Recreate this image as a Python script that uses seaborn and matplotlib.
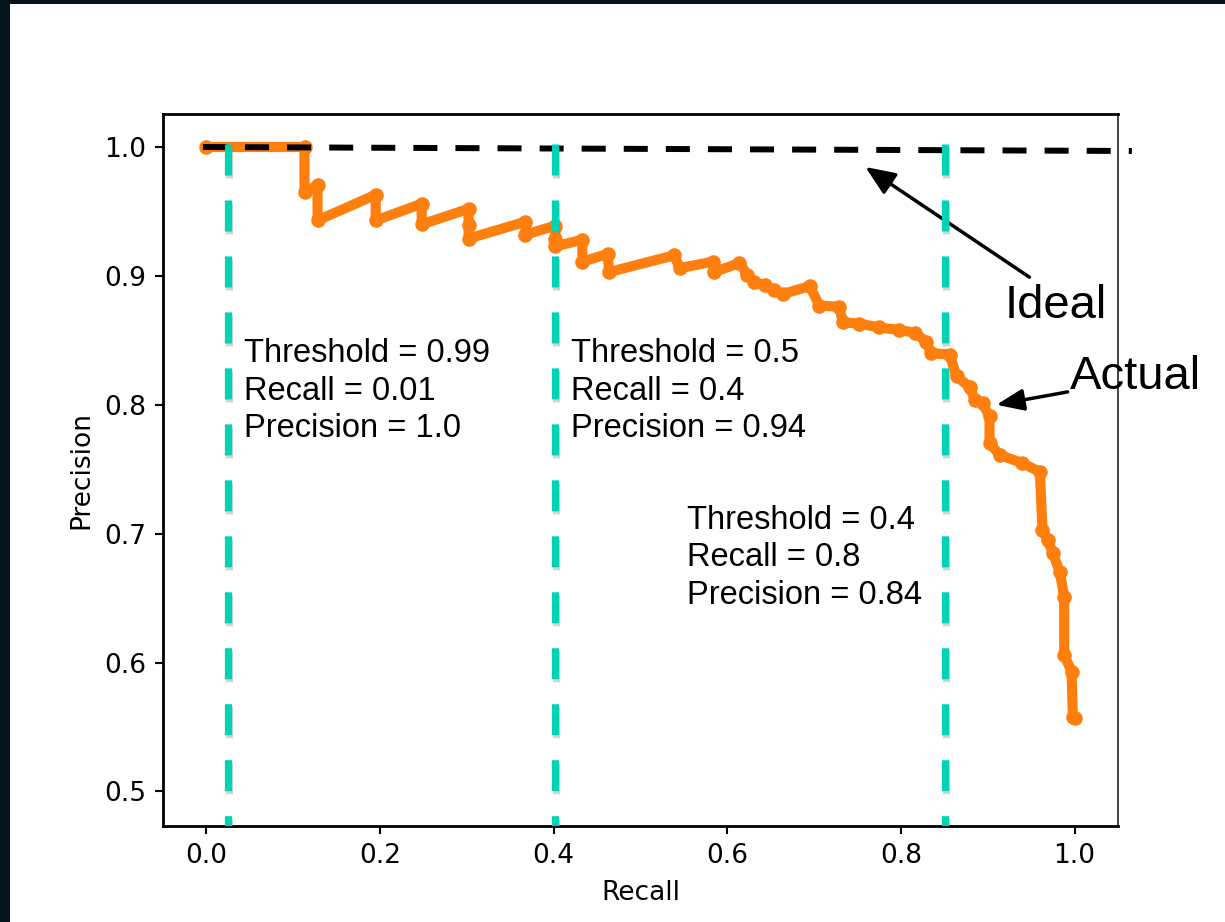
import numpy as np
import pandas as pd
import matplotlib
matplotlib.use("Agg")
import matplotlib.pyplot as plt
import matplotlib.patheffects as pe
from matplotlib.patches import Rectangle
import seaborn as sns

# precision-recall curve
recall = [0.0, 0.113, 0.113, 0.128, 0.128, 0.195, 0.195, 0.248, 0.248, 0.302,
          0.302, 0.302, 0.3675, 0.3675, 0.402, 0.402, 0.402, 0.433, 0.433, 0.462,
          0.464, 0.539, 0.545, 0.583, 0.585, 0.614, 0.623, 0.631, 0.643, 0.654,
          0.664, 0.695, 0.706, 0.729, 0.733, 0.752, 0.775, 0.798, 0.816, 0.829,
          0.835, 0.856, 0.864, 0.879, 0.885, 0.894, 0.902, 0.902, 0.914, 0.939,
          0.960, 0.963, 0.969, 0.975, 0.983, 0.988, 0.988, 0.9965, 0.998, 1.0]
precision = [1.0, 1.0, 0.965, 0.9705, 0.943, 0.963, 0.943, 0.956, 0.940, 0.952,
             0.9395, 0.929, 0.942, 0.932, 0.939, 0.929, 0.923, 0.928, 0.911, 0.917,
             0.903, 0.916, 0.906, 0.911, 0.903, 0.910, 0.901, 0.895, 0.893, 0.889,
             0.886, 0.892, 0.877, 0.876, 0.864, 0.863, 0.860, 0.858, 0.856, 0.849,
             0.840, 0.839, 0.822, 0.814, 0.804, 0.801, 0.791, 0.770, 0.761, 0.755,
             0.748, 0.703, 0.695, 0.685, 0.670, 0.651, 0.606, 0.593, 0.558, 0.557]

# ideal line
ideal_x = [-0.004, 1.066]
ideal_y = [1.0, 0.9969]

# chosen thresholds
marker_recall = [0.025, 0.401, 0.851]
notes = ["Threshold = 0.99\nRecall = 0.01\nPrecision = 1.0",
         "Threshold = 0.5\nRecall = 0.4\nPrecision = 0.94",
         "Threshold = 0.4\nRecall = 0.8\nPrecision = 0.84"]
# anchored at the baseline of the last line
note_pos = [(0.0438, 0.775), (0.4205, 0.775), (0.554, 0.6455)]

xticks = [0.0, 0.2, 0.4, 0.6, 0.8, 1.0]
yticks = [0.5, 0.6, 0.7, 0.8, 0.9, 1.0]

ORANGE = "#ff7f0e"
TEAL = "#00d2b4"

sns.set_style("ticks")
plt.rcParams["lines.scale_dashes"] = False
plt.rcParams["font.family"] = ["DejaVu Sans"]
plt.rcParams["text.color"] = "black"

fig = plt.figure(figsize=(12.25, 9.22), dpi=100, facecolor="#06141b")
fig.add_artist(Rectangle((10 / 1225, 0), 1, 1 - 4 / 922, transform=fig.transFigure,
                         facecolor="white", edgecolor="none", zorder=-1))
ax = fig.add_axes([163 / 1225, 1 - 826 / 922, (1118 - 163) / 1225, (826 - 114) / 922])

df = pd.DataFrame({"Recall": recall, "Precision": precision})
sns.lineplot(data=df, x="Recall", y="Precision", estimator=None, sort=False,
             color=ORANGE, lw=7.3, marker="o", markersize=10.5, markeredgewidth=0,
             solid_capstyle="round", solid_joinstyle="round", ax=ax, zorder=2)

ax.plot(ideal_x, ideal_y, color="black", lw=4.3, linestyle=(0, (17.3, 13)),
        clip_on=False, zorder=3)

for xv in marker_recall:
    ax.plot([xv, xv], [1.0023, 0.4732], color=TEAL, lw=5.2,
            linestyle=(0, (22.3, 18)), zorder=4,
            path_effects=[pe.SimpleLineShadow(offset=(0.8, -2), shadow_color="gray", alpha=0.35),
                          pe.Normal()])

for (tx, ty), s in zip(note_pos, notes):
    ax.text(tx, ty, s, fontsize=23.5, family="Liberation Sans", va="baseline",
            ha="left", linespacing=1.27, color="black", zorder=5)

ax.text(0.919, 0.867, "Ideal", fontsize=34, family="Liberation Sans", va="baseline", color="black")
ax.text(0.995, 0.812, "Actual", fontsize=34, family="Liberation Sans", va="baseline", color="black")

ax.annotate("", xy=(0.759, 0.9845), xytext=(0.948, 0.899),
            arrowprops=dict(arrowstyle="-|>,head_length=0.6,head_width=0.25",
                            color="black", lw=2.5, mutation_scale=30,
                            shrinkA=0, shrinkB=0))
ax.annotate("", xy=(0.910, 0.800), xytext=(0.992, 0.810),
            arrowprops=dict(arrowstyle="-|>,head_length=0.55,head_width=0.22",
                            color="black", lw=2.5, mutation_scale=30,
                            shrinkA=0, shrinkB=0))

ax.set_xlim(-0.05, 1.05)
ax.set_ylim(0.4732, 1.0256)
ax.set_xticks(xticks)
ax.set_yticks(yticks)
ax.set_xticklabels([f"{t:.1f}" for t in xticks])
ax.set_yticklabels([f"{t:.1f}" for t in yticks])
ax.tick_params(labelsize=19, length=6, width=1.5, pad=6, colors="black")
ax.set_xlabel("Recall", fontsize=19, labelpad=8, color="black")
ax.set_ylabel("Precision", fontsize=19, labelpad=7, color="black")
for side in ["left", "bottom", "top"]:
    ax.spines[side].set_linewidth(2)
    ax.spines[side].set_color("black")
ax.spines["right"].set_linewidth(1.2)
ax.spines["right"].set_color("#222222")

fig.savefig("out.png", dpi=100, facecolor=fig.get_facecolor())
